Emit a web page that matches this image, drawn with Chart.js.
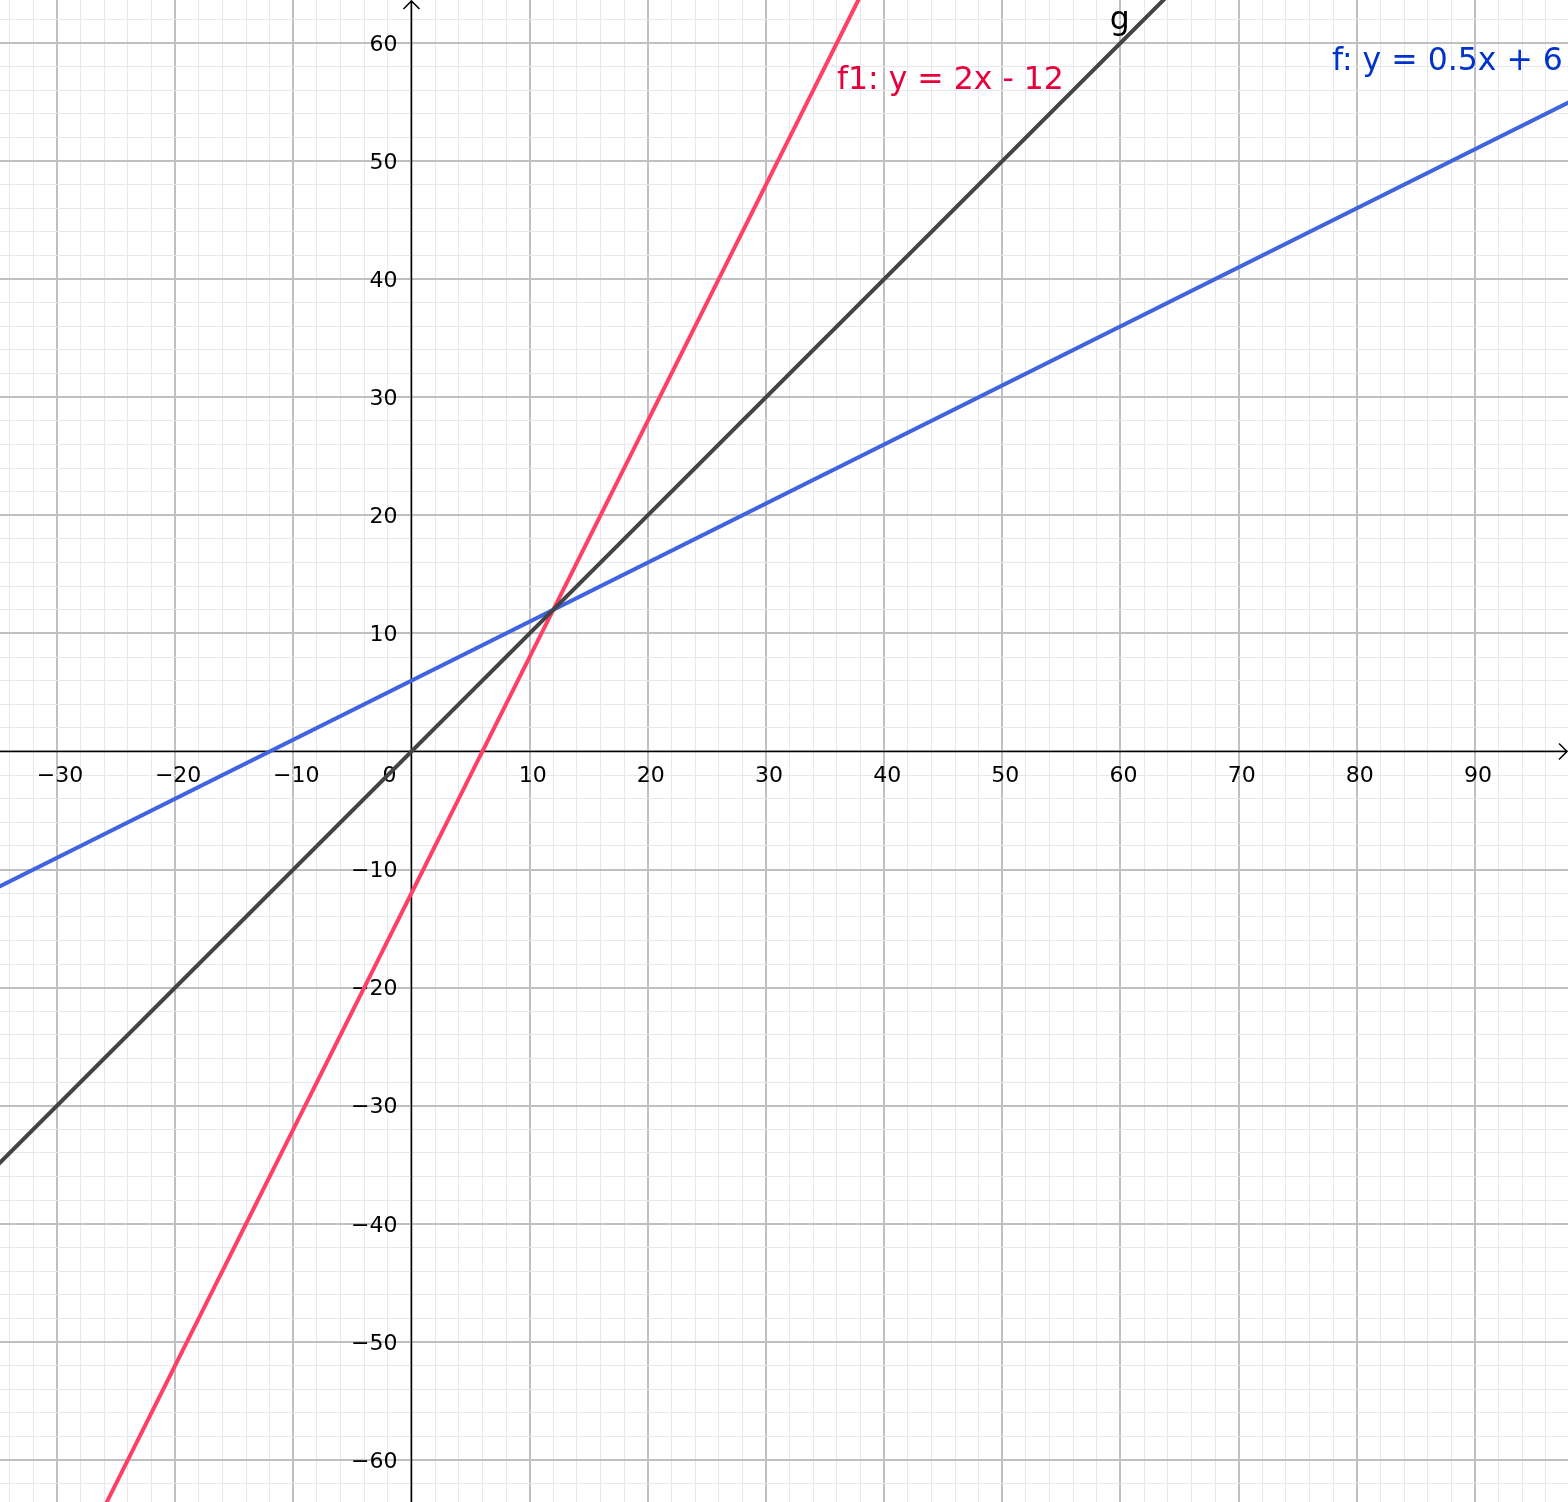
<!DOCTYPE html>
<html>
<head>
<meta charset="utf-8">
<script src="https://cdn.jsdelivr.net/npm/chart.js@4"></script>
<style>
  html, body { margin: 0; padding: 0; background: #fff; }
  #wrap { width: 1568px; height: 1502px; position: relative; }
</style>
</head>
<body>
<div id="wrap"><canvas id="plot"></canvas></div>
<script>
// line end points (x) and the y values of each line there
const xEnds = [-40, 100];
const fValues = [-14, 56];     // f: y = 0.5x + 6
const f1Values = [-92, 188];   // f1: y = 2x - 12
const gValues = [-40, 100];    // g: y = x

// tick labels along the axes
const xTickLabels = [-30, -20, -10, 10, 20, 30, 40, 50, 60, 70, 80, 90];
const yTickLabels = [60, 50, 40, 30, 20, 10, -10, -20, -30, -40, -50, -60];

const toPoints = (xs, ys) => xs.map((x, i) => ({ x: x, y: ys[i] }));
const fmt = (v) => (v < 0 ? '\u2212' + Math.abs(v) : String(v));

// grid colour: darker every 10 units, light every 2
const gridColor = (ctx) => {
  const v = ctx.tick ? Math.round(ctx.tick.value) : 1;
  return v % 10 === 0 ? '#c0c0c0' : '#e8e8e8';
};
const gridWidth = (ctx) => {
  const v = ctx.tick ? Math.round(ctx.tick.value) : 1;
  return v % 10 === 0 ? 2 : 1;
};

// axes with arrows, drawn under the lines
const axesPlugin = {
  id: 'axes',
  beforeDatasetsDraw(chart) {
    const { ctx, chartArea, scales } = chart;
    const x0 = scales.x.getPixelForValue(0);
    const y0 = scales.y.getPixelForValue(0);
    ctx.save();
    ctx.strokeStyle = '#000';
    ctx.lineWidth = 1.5;
    ctx.beginPath();
    ctx.moveTo(chartArea.left, y0);
    ctx.lineTo(chartArea.right - 1, y0);
    ctx.moveTo(x0, chartArea.bottom);
    ctx.lineTo(x0, chartArea.top + 1);
    // arrow heads
    ctx.moveTo(chartArea.right - 9, y0 - 8);
    ctx.lineTo(chartArea.right - 1, y0);
    ctx.lineTo(chartArea.right - 9, y0 + 8);
    ctx.moveTo(x0 - 8, chartArea.top + 9);
    ctx.lineTo(x0, chartArea.top + 1);
    ctx.lineTo(x0 + 8, chartArea.top + 9);
    ctx.stroke();

    // tick labels
    ctx.fillStyle = '#000';
    ctx.font = '22px "DejaVu Sans", sans-serif';
    ctx.textAlign = 'center';
    ctx.textBaseline = 'middle';
    xTickLabels.forEach(v => {
      ctx.fillText(fmt(v), scales.x.getPixelForValue(v) + 3, y0 + 25);
    });
    ctx.fillText('0', x0 - 22, y0 + 25);
    ctx.textAlign = 'right';
    yTickLabels.forEach(v => {
      ctx.fillText(fmt(v), x0 - 14, scales.y.getPixelForValue(v) + 2);
    });
    ctx.restore();
  }
};

// line names written next to the lines
const namesPlugin = {
  id: 'names',
  afterDatasetsDraw(chart) {
    const { ctx, scales } = chart;
    const names = [
      { text: 'f1: y = 2x - 12', color: '#e8003c', x: 36, y: 56.8 },
      { text: 'g', color: '#000000', x: 59.1, y: 61.9 },
      { text: 'f: y = 0.5x + 6', color: '#0033cc', x: 77.9, y: 58.4 }
    ];
    ctx.save();
    ctx.font = '31.5px "DejaVu Sans", sans-serif';
    ctx.textAlign = 'left';
    ctx.textBaseline = 'middle';
    names.forEach(n => {
      ctx.fillStyle = n.color;
      ctx.fillText(n.text, scales.x.getPixelForValue(n.x), scales.y.getPixelForValue(n.y));
    });
    ctx.restore();
  }
};

const lineSet = (label, ys, color) => ({
  label: label,
  data: toPoints(xEnds, ys),
  showLine: true,
  borderColor: color,
  borderWidth: 4,
  pointRadius: 0,
  pointHoverRadius: 0,
  fill: false
});

new Chart(document.getElementById('plot').getContext('2d'), {
  type: 'scatter',
  data: {
    datasets: [
      lineSet('g', gValues, 'rgba(68,68,68,1)'),
      lineSet('f', fValues, 'rgba(65,100,220,1)'),
      lineSet('f1', f1Values, 'rgba(255,64,100,1)')
    ]
  },
  options: {
    responsive: true,
    maintainAspectRatio: false,
    animation: false,
    layout: { padding: 0 },
    plugins: {
      legend: { display: false },
      tooltip: { enabled: false }
    },
    scales: {
      x: {
        type: 'linear',
        min: -34.82,
        max: 97.87,
        border: { display: false },
        grid: { color: gridColor, lineWidth: gridWidth, drawTicks: false },
        ticks: { display: false, stepSize: 2, includeBounds: false, autoSkip: false }
      },
      y: {
        type: 'linear',
        min: -63.56,
        max: 63.64,
        border: { display: false },
        grid: { color: gridColor, lineWidth: gridWidth, drawTicks: false },
        ticks: { display: false, stepSize: 2, includeBounds: false, autoSkip: false }
      }
    }
  },
  plugins: [axesPlugin, namesPlugin]
});
</script>
</body>
</html>
